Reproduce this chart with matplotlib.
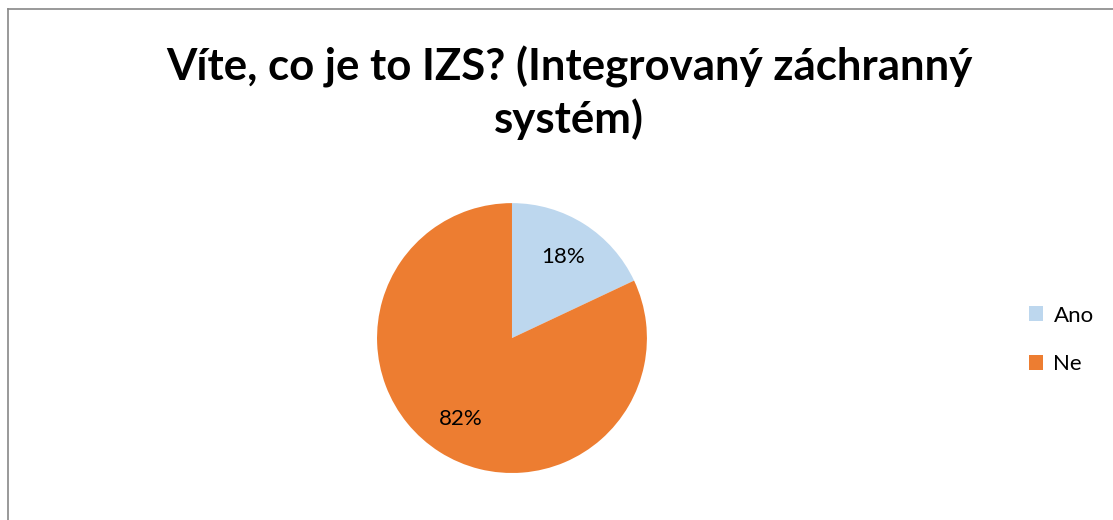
import matplotlib.pyplot as plt
from matplotlib.lines import Line2D
from matplotlib.patches import Patch

# data
labels = ['Ano', 'Ne']
values = [18, 82]
colors = ['#BDD7EE', '#ED7D31']
title = 'Víte, co je to IZS? (Integrovaný záchranný\nsystém)'

plt.rcParams['font.family'] = ['Lato', 'DejaVu Sans']

fig = plt.figure(figsize=(11.13, 5.20), dpi=100)

# chart border (gray frame, cut off at right/bottom like the source)
fig.add_artist(Line2D([8 / 1113, 1.0], [1 - 9 / 520, 1 - 9 / 520], color='#888888', lw=1.2))
fig.add_artist(Line2D([8 / 1113, 8 / 1113], [1 - 9 / 520, 0.0], color='#888888', lw=1.2))

fig.text(569 / 1113, 1 - 93 / 520, title, ha='center', va='center',
         fontsize=31.5, fontweight='bold', linespacing=1.32)

ax = fig.add_axes([0.3387, 0.0904, 0.2426, 0.519])
ax.pie(values, colors=colors, startangle=90, counterclock=False,
       autopct='%1.0f%%', pctdistance=0.71,
       textprops={'fontsize': 16, 'color': 'black'})
ax.set_xlim(-1, 1)
ax.set_ylim(-1, 1)
ax.set_aspect('equal')

handles = [Patch(facecolor=c, edgecolor='none') for c in colors]
fig.legend(handles, labels, loc='center left', bbox_to_anchor=(1029 / 1113, 1 - 340 / 520),
           frameon=False, fontsize=16, handlelength=0.65, handleheight=0.65,
           handletextpad=0.45, labelspacing=1.3, borderpad=0, borderaxespad=0)

fig.savefig('out.png', dpi=100)
